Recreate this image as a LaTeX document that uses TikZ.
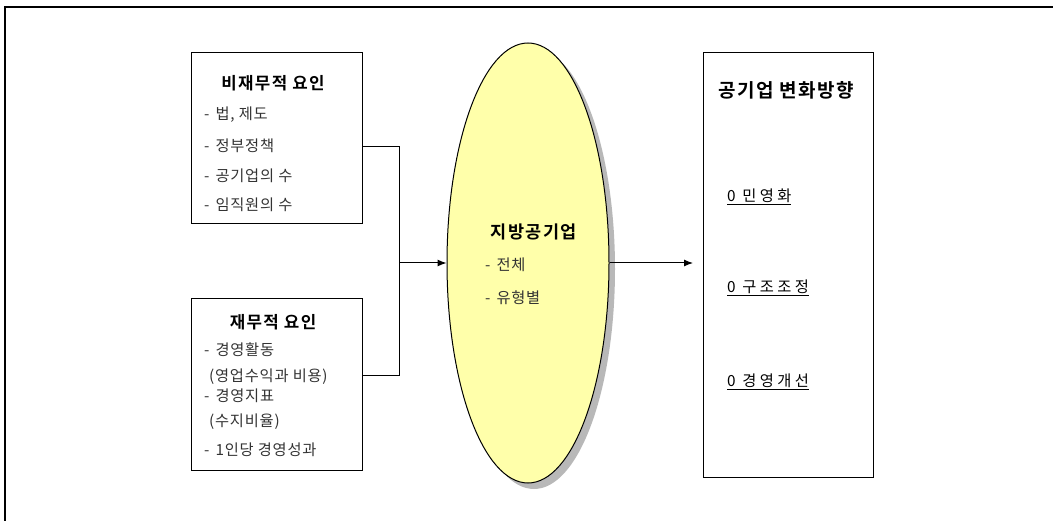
\documentclass[tikz,border=0pt]{standalone}
\usepackage{fontspec}
\setmainfont{Noto Sans CJK KR}[BoldFont={Noto Sans CJK KR Bold}]
\newfontfamily\kritem{Noto Sans CJK KR}[LetterSpace=5]
\newfontfamily\krwide{Noto Sans CJK KR}[LetterSpace=22]
\newfontfamily\krtitle{Noto Sans CJK KR Bold}[LetterSpace=8]
\usetikzlibrary{arrows.meta,shapes.geometric,shadows}
\definecolor{ellfill}{HTML}{FFFFAA}
\definecolor{itemgray}{HTML}{333333}
\tikzset{
  boxnode/.style={draw=black, line width=1pt, rectangle, inner sep=0pt},
  ttl/.style={font=\krtitle\fontsize{16.8}{18}\selectfont, inner sep=0pt, text=black},
  itm/.style={font=\kritem\fontsize{15.3}{17}\selectfont, inner sep=0pt, anchor=west, text=itemgray},
  witm/.style={font=\krwide\fontsize{15.3}{17}\selectfont, inner sep=0pt, anchor=west, text=black},
  conn/.style={line width=1pt, draw=black},
  arr/.style={conn, -{Latex[length=9pt,width=7pt]}}
}
\newcommand{\dsh}{-\hspace{6pt}}
\begin{document}
\begin{tikzpicture}[x=1pt,y=-1pt]
\useasboundingbox (0,0) rectangle (1053,521);
% outer frame (top and left edges)
\draw[line width=2pt] (1053,7) -- (5,7) -- (5,521);

% boxes
\node[boxnode, minimum width=171pt, minimum height=171pt] (b1) at (276.5,138.5) {};
\node[boxnode, minimum width=171pt, minimum height=171pt] (b2) at (276.5,384.5) {};
\node[boxnode, minimum width=170pt, minimum height=424pt] (b3) at (788,265) {};
\node[ellipse, draw=black, line width=1pt, fill=ellfill, minimum width=162pt, minimum height=440pt, inner sep=0pt,
      drop shadow={shadow xshift=6pt, shadow yshift=-6pt, fill=black!28, opacity=1}] (e) at (528,263) {};

% box 1 texts
\node[ttl] (t1) at (273,83) {비재무적 요인};
\node[itm] (t1a) at (204,115) {\dsh 법, 제도};
\node[itm] (t1b) at (204,146) {\dsh 정부정책};
\node[itm] (t1c) at (204,176) {\dsh 공기업의 수};
\node[itm] (t1d) at (204,205) {\dsh 임직원의 수};

% box 2 texts
\node[ttl] (t2) at (273,322) {재무적 요인};
\node[itm] (t2a) at (204,350) {\dsh 경영활동};
\node[itm] (t2b) at (209,377) {(영업수익과 비용)};
\node[itm] (t2c) at (204,396) {\dsh 경영지표};
\node[itm] (t2d) at (209,422) {(수지비율)};
\node[itm] (t2e) at (204,450) {\dsh 1인당 경영성과};

% ellipse texts
\node[ttl, font=\krtitle\fontsize{17.5}{19}\selectfont] (te) at (534,232) {지방공기업};
\node[itm] (tea) at (485,265) {\dsh 전체};
\node[itm] (teb) at (485,298) {\dsh 유형별};

% box 3 texts
\node[ttl, font=\krtitle\fontsize{19}{21}\selectfont] (t3) at (786,90) {공기업 변화방향};
\node[witm] (t3a) at (727,197) {\underline{0 민영화}};
\node[witm] (t3b) at (727,288) {\underline{0 구조조정}};
\node[witm] (t3c) at (727,382) {\underline{0 경영개선}};

% connectors
\coordinate (j1) at (399,147);
\coordinate (j2) at (399,376);
\coordinate (jm) at (399,263);
\coordinate (aend) at (693,263);
\draw[conn] (b1.east |- j1) -- (j1) -- (j2) -- (b2.east |- j2);
\draw[arr] (jm) -- (e.west);
\draw[arr] (e.east) -- (aend);
\end{tikzpicture}
\end{document}
